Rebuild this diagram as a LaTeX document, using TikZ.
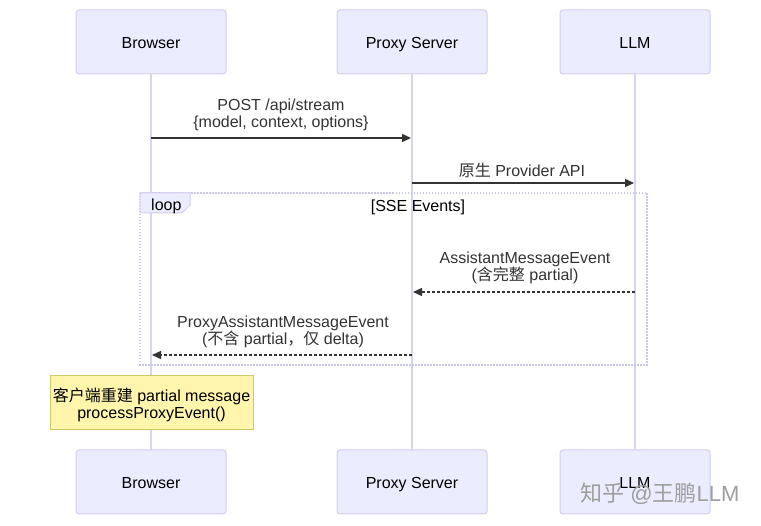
\documentclass[tikz,border=0pt]{standalone}
\usepackage{fontspec}
\setmainfont{Liberation Sans}
\newfontfamily\cjk{Noto Sans CJK SC}
\usetikzlibrary{arrows.meta}
\definecolor{actfill}{HTML}{ECECFF}
\definecolor{actline}{HTML}{D6CCF0}
\definecolor{lifeline}{HTML}{D4D4F4}
\definecolor{msg}{HTML}{333333}
\definecolor{notefill}{HTML}{FFF5AD}
\definecolor{noteline}{HTML}{C8C864}
\definecolor{loopline}{HTML}{C8C8E6}
\tikzset{
  actor/.style={draw=actline, fill=actfill, rounded corners=3pt, minimum width=150pt, minimum height=64pt, line width=1pt, font=\fontsize{16}{18}\selectfont, text=black, inner sep=0pt, text height=13.5pt, text depth=0pt},
  life/.style={draw=lifeline, line width=1.6pt},
  msgline/.style={draw=msg, line width=1.4pt, -{Triangle[length=9pt,width=8pt]}},
  msgdash/.style={msgline, dash pattern=on 3pt off 2pt},
  lbl/.style={font=\fontsize{16}{17}\selectfont, text=msg, align=center, inner sep=0pt},
  notebox/.style={draw=noteline, fill=notefill, line width=1pt, minimum width=203pt, minimum height=54pt, inner sep=0pt},
}
\begin{document}
\begin{tikzpicture}[x=1pt,y=-1pt]
\useasboundingbox (0,0) rectangle (761,526);
\fill[white] (0,0) rectangle (761,526);
% lifelines
\coordinate (bt) at (151,74); \coordinate (bb) at (151,450);
\coordinate (pt) at (412,74); \coordinate (pb) at (412,450);
\coordinate (lt) at (635,74); \coordinate (lb) at (635,450);
\draw[life] (bt) -- (bb);
\draw[life] (pt) -- (pb);
\draw[life] (lt) -- (lb);
% loop box
\draw[loopline, line width=1.2pt, dash pattern=on 1.5pt off 1.5pt] (140,193) rectangle (647,365);
\draw[actline, fill=actfill, line width=1pt] (140,193) -- (190,193) -- (190,205) -- (182,213) -- (140,213) -- cycle;
\node[lbl, text=black, anchor=west] (looplbl) at (151,206) {loop};
\node[lbl, text=black] (cond) at (418,207) {[SSE Events]};
% actors
\node[actor] (b1) at (151,42) {Browser};
\node[actor] (p1) at (412,42) {Proxy Server};
\node[actor] (l1) at (635,42) {LLM};
\node[actor] (b2) at (151,482) {Browser};
\node[actor] (p2) at (412,482) {Proxy Server};
\node[actor] (l2) at (635,482) {LLM};
% messages
\coordinate (m1a) at (151,138); \coordinate (m1b) at (411,138);
\draw[msgline] (m1a) -- (m1b);
\node[lbl] (t1) at (281,115) {POST /api/stream\\\{model, context, options\}};
\coordinate (m2a) at (412,183); \coordinate (m2b) at (634,183);
\draw[msgline] (m2a) -- (m2b);
\node[lbl] (t2) at (522,170) {{\cjk 原生} Provider API};
\coordinate (m3a) at (635,292); \coordinate (m3b) at (413,292);
\draw[msgdash] (m3a) -- (m3b);
\node[lbl] (t3) at (525,268) {AssistantMessageEvent\\({\cjk 含完整} partial)};
\coordinate (m4a) at (412,355); \coordinate (m4b) at (152,355);
\draw[msgdash] (m4a) -- (m4b);
\node[lbl] (t4) at (283,332) {ProxyAssistantMessageEvent\\({\cjk 不含} partial{\cjk ，仅} delta)};
% note
\node[notebox] (note) at (151.5,403) {};
\node[lbl, text=black] (notetext) at (151.5,405) {{\cjk 客户端重建} partial message\\processProxyEvent()};
% watermark
\node[font=\fontsize{22}{24}\selectfont, text=black!38, anchor=west, inner sep=0pt] (wm) at (580,494) {{\cjk 知乎} @{\cjk 王鹏}LLM};
\end{tikzpicture}
\end{document}
